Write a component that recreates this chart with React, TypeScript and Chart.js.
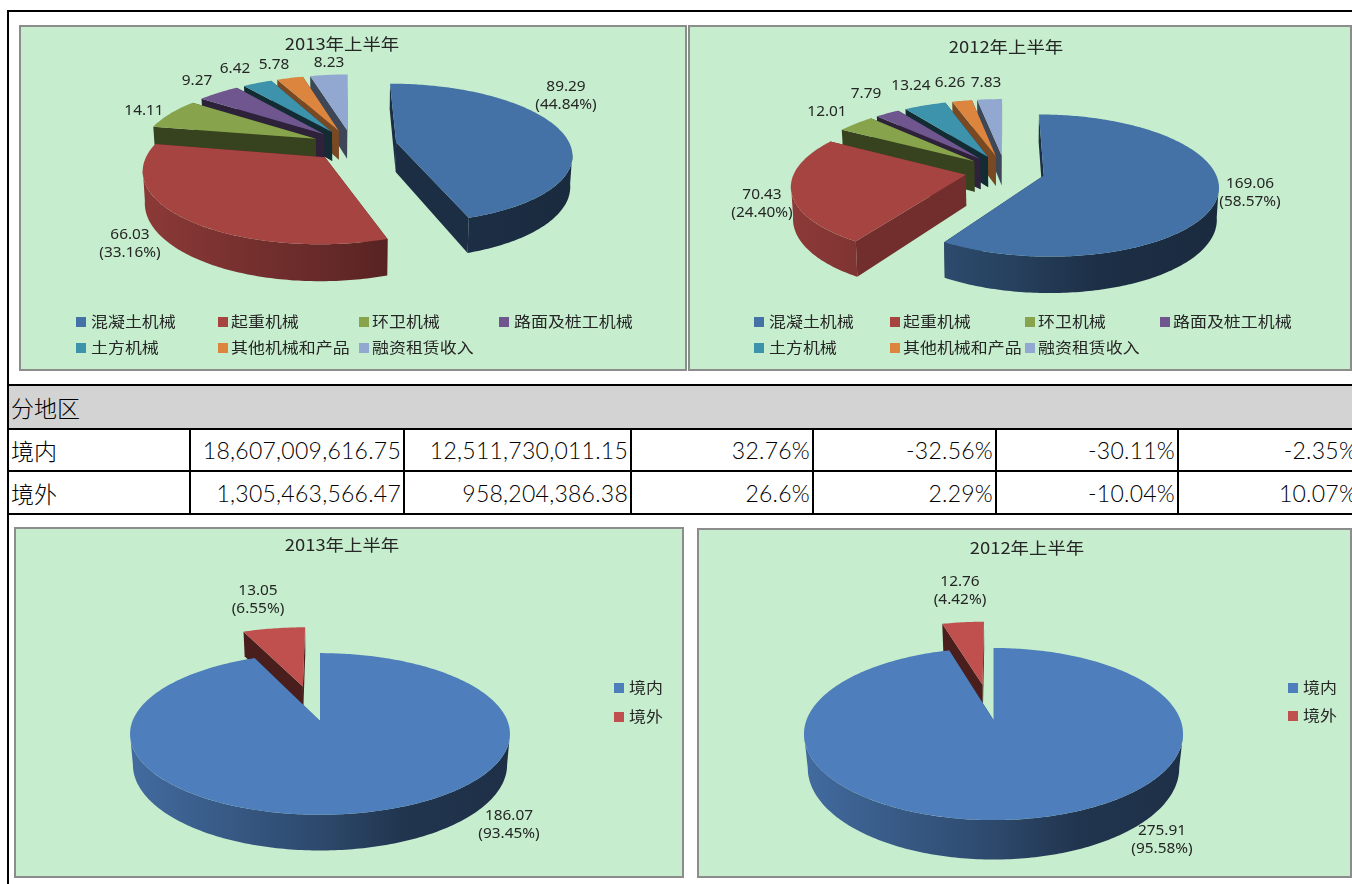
import React, { useEffect, useRef } from "react";
import { Chart, registerables } from "chart.js";

Chart.register(...registerables);

const businessCategories = ["混凝土机械", "起重机械", "环卫机械", "路面及桩工机械", "土方机械", "其他机械和产品", "融资租赁收入"];
const business2013 = [89.29, 66.03, 14.11, 9.27, 6.42, 5.78, 8.23];
const business2012 = [169.06, 70.43, 12.01, 7.79, 13.24, 6.26, 7.83];
const business2013Labels = [["89.29", "(44.84%)"], ["66.03", "(33.16%)"], ["14.11"], ["9.27"], ["6.42"], ["5.78"], ["8.23"]];
const business2012Labels = [["169.06", "(58.57%)"], ["70.43", "(24.40%)"], ["12.01"], ["7.79"], ["13.24"], ["6.26"], ["7.83"]];

const regionCategories = ["境内", "境外"];
const region2013 = [186.07, 13.05];
const region2012 = [275.91, 12.76];
const region2013Labels = [["186.07", "(93.45%)"], ["13.05", "(6.55%)"]];
const region2012Labels = [["275.91", "(95.58%)"], ["12.76", "(4.42%)"]];

const tableHeader = "分地区";
const tableRows = [
  ["境内", "18,607,009,616.75", "12,511,730,011.15", "32.76%", "-32.56%", "-30.11%", "-2.35%"],
  ["境外", "1,305,463,566.47", "958,204,386.38", "26.6%", "2.29%", "-10.04%", "10.07%"],
];
const columnWidths = [182, 214, 227, 182, 183, 182, 182];

const BG = "#C6EDCD";
const BORDER = "#8C8C8C";
const TEXT = "#262626";
const CJK = "'Noto Sans CJK SC'";
const LATIN = "'Noto Sans'";
const topColors = ["#4471A6", "#A64442", "#87A44C", "#70568F", "#3E93AC", "#DB853F", "#92A8D0"];
const bottomColors = ["#4E7EBB", "#C0504D"];

const shade = (hex: string, f: number) => {
  const n = parseInt(hex.slice(1), 16);
  const c = [(n >> 16) & 255, (n >> 8) & 255, n & 255].map((v) => Math.round(v * f));
  return `rgb(${c[0]},${c[1]},${c[2]})`;
};

const drawText = (ctx: any, text: string, x: number, y: number, font: string, stretch: number, align: "center" | "left" = "center") => {
  ctx.save();
  ctx.font = font;
  ctx.fillStyle = TEXT;
  ctx.textBaseline = "middle";
  ctx.textAlign = align;
  ctx.translate(x, y);
  ctx.scale(stretch, 1);
  ctx.fillText(text, 0, 0);
  ctx.restore();
};

const pie3d = {
  id: "pie3d",
  beforeDraw(chart: any) {
    const { ctx, width, height } = chart;
    ctx.save();
    ctx.fillStyle = BG;
    ctx.fillRect(0, 0, width, height);
    ctx.strokeStyle = BORDER;
    ctx.lineWidth = 2;
    ctx.strokeRect(1, 1, width - 2, height - 2);
    ctx.restore();
  },
  beforeDatasetDraw() {
    return false;
  },
  afterDatasetsDraw(chart: any, _a: any, o: any) {
    const { ctx } = chart;
    const arcs = chart.getDatasetMeta(0).data;
    const { k, p, depth, lower, colors, cutShade, gradSpan } = o;
    const grad = (cx: number, col: string) => {
      const g = ctx.createLinearGradient(cx - gradSpan, 0, cx + gradSpan, 0);
      g.addColorStop(0, shade(col, 0.85));
      g.addColorStop(0.5, shade(col, 0.58));
      g.addColorStop(0.72, shade(col, 0.42));
      g.addColorStop(1, shade(col, 0.38));
      return g;
    };
    const order = arcs
      .map((el: any, i: number) => ({ el, i, m: (el.startAngle + el.endAngle) / 2 + Math.PI / 2 }))
      .sort((a: any, b: any) => Math.cos(b.m) - Math.cos(a.m));
    for (const { el, i, m } of order) {
      const R = el.outerRadius;
      const cx = el.x;
      const cy = el.y;
      const d = el.options.offset || 0;
      const ox = d * Math.sin(m);
      const oy = d * Math.cos(m);
      const P = (X: number, Y: number, z: number) => {
        const s = 1 / (1 + (p * Y) / R);
        const b = z > 0 ? lower : 1;
        return [cx + X * s * b, cy - Y * k * s + z * s];
      };
      const a0 = el.startAngle + Math.PI / 2;
      const a1 = el.endAngle + Math.PI / 2;
      const rim = (from: number, to: number, z: number) => {
        const n = Math.max(4, Math.ceil((to - from) * 60));
        const pts = [];
        for (let t = 0; t <= n; t++) {
          const th = from + ((to - from) * t) / n;
          pts.push(P(ox + R * Math.sin(th), oy + R * Math.cos(th), z));
        }
        return pts;
      };
      const top = rim(a0, a1, 0);
      const A = P(ox, oy, 0);
      const B = P(ox, oy, depth);
      const fill = (pts: number[][], style: any) => {
        ctx.beginPath();
        pts.forEach((q, j) => (j ? ctx.lineTo(q[0], q[1]) : ctx.moveTo(q[0], q[1])));
        ctx.closePath();
        ctx.fillStyle = style;
        ctx.fill();
      };
      const col = colors[i];
      const cut = shade(col, cutShade[i]);
      const corner = (th: number) => [
        P(ox + R * Math.sin(th), oy + R * Math.cos(th), 0),
        P(ox + R * Math.sin(th), oy + R * Math.cos(th), depth),
      ];
      const c0 = corner(a0);
      const c1 = corner(a1);
      fill([A, c0[0], c0[1], B], cut);
      fill([A, c1[0], c1[1], B], cut);
      // only the part of the rim that faces the viewer gets a side wall
      const th1 = Math.acos(-p);
      const s0 = Math.max(a0, th1);
      const s1 = Math.min(a1, 2 * Math.PI - th1);
      if (s1 > s0) fill([...rim(s0, s1, 0), ...rim(s0, s1, depth).reverse()], grad(cx, col));
      fill([A, ...top], col);
    }
    drawText(ctx, o.title[0], o.title[1], o.title[2], `16px ${CJK}`, o.titleStretch);
    const textFont = `${o.labelSize}px ${LATIN}`;
    o.labels.forEach((lines: string[], i: number) => {
      const pos = o.labelPos[i];
      lines.forEach((s, j) => drawText(ctx, s, pos[0], pos[1] + j * o.lineGap, textFont, 1.1));
    });
    o.legend.forEach((name: string, i: number) => {
      const pos = o.legendPos[i];
      ctx.fillStyle = colors[i];
      ctx.fillRect(pos[0], pos[1] - 5, 10, 10);
      drawText(ctx, name, pos[2], pos[1] - 1, `15px ${CJK}`, o.legendStretch, "left");
    });
  },
};

const panels = [
  {
    rect: [19, 25, 668, 346], center: [352, 145], R: 174, k: 0.395, p: 0.16, depth: 30, lower: 0.99, gradSpan: 215,
    values: business2013, labels: business2013Labels, names: businessCategories, colors: topColors,
    offsets: [45, 40, 40, 40, 40, 40, 40], cutShade: [0.41, 0.45, 0.41, 0.4, 0.3, 0.55, 0.42],
    title: ["2013年上半年", 342, 44], titleStretch: 1.15,
    labelPos: [[566, 87], [130, 235], [144, 111], [197, 81], [235, 69], [274, 65], [329, 63]],
    legendPos: [[76, 322, 91], [218, 322, 231], [359, 322, 372], [499, 322, 514], [76, 348, 91], [218, 348, 231], [359, 348, 372]],
  },
  {
    rect: [688, 25, 664, 346], center: [1005, 171], R: 171, k: 0.4, p: 0.14, depth: 31, lower: 0.99, gradSpan: 215,
    values: business2012, labels: business2012Labels, names: businessCategories, colors: topColors,
    offsets: [40, 40, 40, 40, 40, 40, 40], cutShade: [0.41, 0.68, 0.41, 0.4, 0.3, 0.55, 0.42],
    title: ["2012年上半年", 1006, 47], titleStretch: 1.15,
    labelPos: [[1250, 184], [762, 195], [827, 112], [866, 94], [911, 86], [950, 83], [986, 83]],
    legendPos: [[754, 322, 769], [890, 322, 903], [1025, 322, 1038], [1160, 322, 1173], [754, 348, 769], [890, 348, 903], [1025, 348, 1038]],
  },
  {
    rect: [14, 527, 670, 351], center: [320, 721], R: 187.5, k: 0.42, p: 0.16, depth: 30, lower: 0.985, gradSpan: 190,
    values: region2013, labels: region2013Labels, names: regionCategories, colors: bottomColors,
    offsets: [0, 90], cutShade: [0.41, 0.38],
    title: ["2013年上半年", 342, 545], titleStretch: 1.15,
    labelPos: [[509, 816], [258, 591]],
    legendPos: [[614, 688, 629], [614, 717, 629]],
  },
  {
    rect: [697, 528, 655, 350], center: [993.5, 720], R: 187, k: 0.448, p: 0.163, depth: 33, lower: 0.98, gradSpan: 190,
    values: region2012, labels: region2012Labels, names: regionCategories, colors: bottomColors,
    offsets: [0, 85], cutShade: [0.41, 0.38],
    title: ["2012年上半年", 1027, 548], titleStretch: 1.15,
    labelPos: [[1162, 831], [960, 582]],
    legendPos: [[1288, 688, 1303], [1288, 716, 1303]],
  },
];

function PieCanvas({ cfg }: { cfg: (typeof panels)[number] }) {
  const ref = useRef<HTMLCanvasElement>(null);
  useEffect(() => {
    const [x, y, w, h] = cfg.rect;
    const cx = cfg.center[0] - x;
    const cy = cfg.center[1] - y;
    const ax = Math.min(cx, w - cx);
    const ay = Math.min(cy, h - cy);
    const shift = (q: number[]) => [q[0] - x, q[1] - y];
    const chart = new Chart(ref.current as HTMLCanvasElement, {
      type: "pie",
      data: {
        labels: cfg.names,
        datasets: [{ data: cfg.values, backgroundColor: cfg.colors, offset: cfg.offsets, borderWidth: 0 }],
      },
      options: {
        responsive: false,
        animation: false,
        events: [],
        radius: cfg.R,
        layout: { padding: { left: cx - ax, right: w - cx - ax, top: cy - ay, bottom: h - cy - ay } },
        plugins: {
          legend: { display: false },
          title: { display: false },
          tooltip: { enabled: false },
          pie3d: {
            k: cfg.k, p: cfg.p, depth: cfg.depth, lower: cfg.lower, gradSpan: cfg.gradSpan,
            colors: cfg.colors, cutShade: cfg.cutShade,
            title: [cfg.title[0], (cfg.title[1] as number) - x, (cfg.title[2] as number) - y],
            titleStretch: cfg.titleStretch,
            labels: cfg.labels, labelPos: cfg.labelPos.map(shift), labelSize: 14, lineGap: 18.5,
            legend: cfg.names, legendStretch: 1.13,
            legendPos: cfg.legendPos.map((q) => [q[0] - x, q[1] - y, q[2] - x]),
          },
        },
      } as any,
      plugins: [pie3d as any],
    });
    return () => chart.destroy();
  }, [cfg]);
  const [x, y, w, h] = cfg.rect;
  return <canvas ref={ref} width={w} height={h} style={{ position: "absolute", left: x, top: y, width: w, height: h, filter: "blur(0.5px)" }} />;
}

const cellFont = "Lato, 'Noto Sans CJK SC', sans-serif";

export default function App() {
  const cell: React.CSSProperties = {
    border: "2px solid #000", padding: "0 2px", textAlign: "right", fontFamily: cellFont, fontWeight: 300,
    fontSize: 23, letterSpacing: 0.25, color: "#000", overflow: "hidden", whiteSpace: "nowrap", boxSizing: "border-box",
  };
  return (
    <div style={{ position: "fixed", left: 0, top: 0, width: 1352, height: 884, background: "#fff", overflow: "hidden" }}>
      <div style={{ position: "absolute", left: 7, top: 10, width: 1345, height: 2, background: "#000" }} />
      <div style={{ position: "absolute", left: 7, top: 10, width: 2, height: 874, background: "#000" }} />
      {panels.map((p, i) => <PieCanvas key={i} cfg={p} />)}
      <table style={{ position: "absolute", left: 7, top: 384, width: 1352, borderCollapse: "collapse", tableLayout: "fixed" }}>
        <colgroup>{columnWidths.map((w, i) => <col key={i} style={{ width: w }} />)}</colgroup>
        <tbody>
          <tr style={{ height: 44 }}>
            <td colSpan={7} style={{ ...cell, textAlign: "left", background: "#D3D3D3", fontFamily: "'Noto Sans CJK SC'", letterSpacing: 0 }}>{tableHeader}</td>
          </tr>
          {tableRows.map((r, i) => (
            <tr key={i} style={{ height: i ? 43 : 42 }}>
              {r.map((c, j) => (
                <td key={j} style={{ ...cell, ...(j === 0 ? { textAlign: "left", fontFamily: "'Noto Sans CJK SC'", letterSpacing: 0 } : {}) }}>{c}</td>
              ))}
            </tr>
          ))}
        </tbody>
      </table>
    </div>
  );
}
